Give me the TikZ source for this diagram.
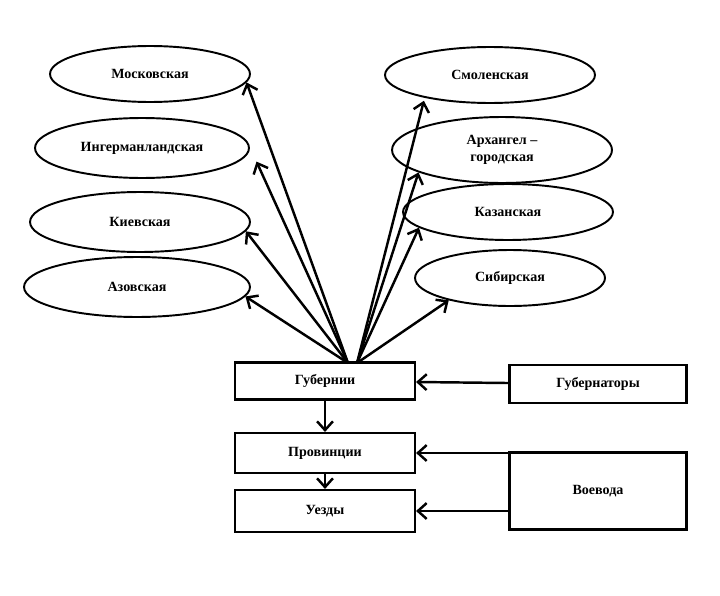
\documentclass[tikz,border=0pt]{standalone}
\usepackage{fontspec}
\setmainfont{Liberation Serif}
\usetikzlibrary{shapes.geometric,arrows.meta}
\begin{document}
\begin{tikzpicture}[x=0.02cm,y=-0.02cm,>={Straight Barb[length=5pt,width=9pt]},line width=1.4pt,
  region/.style={ellipse,draw,line width=1.1pt,inner sep=0pt,font=\bfseries\footnotesize,align=center},
  unit/.style={rectangle,draw,line width=1.2pt,inner sep=0pt,font=\bfseries\footnotesize}]
\useasboundingbox (0,0) rectangle (720,595);

            \node[region, minimum width=4cm, minimum height=1.12cm] (mosk) at (150,74) {Московская};
            \node[region, minimum width=4.28cm, minimum height=1.2cm] (inger) at (142,148) {Ингерманландская};
            \node[region, minimum width=4.4cm, minimum height=1.2cm] (kiev) at (140,222) {Киевская};
            \node[region, minimum width=4.52cm, minimum height=1.2cm] (azov) at (137,287) {Азовская};
            \node[region, minimum width=4.2cm, minimum height=1.12cm] (smol) at (490,75) {Смоленская};
            \node[region, minimum width=4.4cm, minimum height=1.32cm] (arch) at (502,150) {Архангел --\\городская};
            \node[region, minimum width=4.2cm, minimum height=1.12cm] (kazan) at (508,212) {Казанская};
            \node[region, minimum width=3.8cm, minimum height=1.12cm] (sibir) at (510,278) {Сибирская};

            \node[unit, minimum width=3.6cm, minimum height=0.74cm] (gub) at (325,381) {Губернии};
            \node[unit, minimum width=3.6cm, minimum height=0.8cm] (prov) at (325,453) {Провинции};
            \node[unit, minimum width=3.6cm, minimum height=0.84cm] (uezd) at (325,511) {Уезды};
            \node[unit, minimum width=3.54cm, minimum height=0.76cm] (gubern) at (598,384) {Губернаторы};
            \node[unit, minimum width=3.54cm, minimum height=1.54cm] (voev) at (598,491) {Воевода};

            \coordinate (srcl) at (348,363);
            \coordinate (srcr) at (357,363);

            \draw[->] (srcl) to (mosk.-5);
            \draw[->] (srcl) to ([xshift=10pt]inger.-8);
            \draw[->] (srcl) to (kiev.-5);
            \draw[->] (srcl) to (azov.-5);
            \draw[->] (srcr) to ([xshift=5pt,yshift=-3pt]smol.south west);
            \draw[->] (srcr) to (arch.-165);
            \draw[->] (srcr) to (kazan.-170);
            \draw[->] (srcr) to (sibir.-160);

            \draw[->] (gub) to (prov);
            \draw[->] (prov) to (uezd);
            \draw[->] (gubern) to (gub);
            \draw[->] (voev.west |- prov) to (prov);
            \draw[->] (voev.west |- uezd) to (uezd);

\end{tikzpicture}
\end{document}
